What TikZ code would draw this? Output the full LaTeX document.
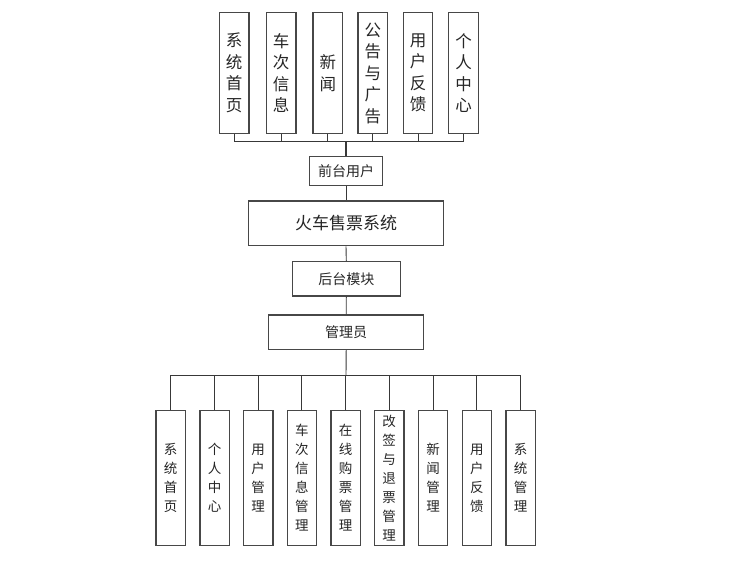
\documentclass[tikz,border=0pt]{standalone}
\usepackage{fontspec}
\setmainfont{Noto Sans CJK SC}
\begin{document}
\begin{tikzpicture}[x=1pt,y=-1pt,
  box/.style={draw=black!72, line width=1.3pt, fill=white, inner sep=0pt, align=center, text=black!85},
  topbox/.style={box, minimum width=29.5pt, minimum height=121.4pt, font=\fontsize{16.5}{21.5}\selectfont},
  botbox/.style={box, minimum width=29.3pt, minimum height=134.6pt, font=\fontsize{13.5}{19}\selectfont},
  conn/.style={draw=black!78, line width=0.9pt}]
\useasboundingbox (0,0) rectangle (746,574);
% top row
\node[topbox] (t1) at (234.2,73) {系\\统\\首\\页};
\node[topbox] (t2) at (281.2,73) {车\\次\\信\\息};
\node[topbox] (t3) at (327.8,73) {新\\闻};
\node[topbox] (t4) at (372.8,73) {公\\告\\与\\广\\告};
\node[topbox] (t5) at (418.0,73) {用\\户\\反\\馈};
\node[topbox] (t6) at (463.5,73) {个\\人\\中\\心};
\coordinate (tb) at (346,141);
% middle
\node[box, minimum width=73.4pt, minimum height=28.6pt, font=\fontsize{14}{16}\selectfont] (front) at (346,171) {前台用户};
\node[box, minimum width=195.4pt, minimum height=44.7pt, font=\fontsize{17}{20}\selectfont] (sys) at (346,223.3) {火车售票系统};
\node[box, minimum width=108pt, minimum height=34.3pt, font=\fontsize{14}{16}\selectfont] (back) at (346.3,278.8) {后台模块};
\node[box, minimum width=155pt, minimum height=34.3pt, font=\fontsize{14}{16}\selectfont] (admin) at (346.2,332.2) {管理员};
\coordinate (bb) at (346,375.7);
% bottom row
\node[botbox] (b1) at (170.7,478) {系\\统\\首\\页};
\node[botbox] (b2) at (214.5,478) {个\\人\\中\\心};
\node[botbox] (b3) at (258.2,478) {用\\户\\管\\理};
\node[botbox] (b4) at (301.8,478) {车\\次\\信\\息\\管\\理};
\node[botbox] (b5) at (345.5,478) {在\\线\\购\\票\\管\\理};
\node[botbox] (b6) at (389.2,478) {改\\签\\与\\退\\票\\管\\理};
\node[botbox] (b7) at (433.0,478) {新\\闻\\管\\理};
\node[botbox] (b8) at (476.8,478) {用\\户\\反\\馈};
\node[botbox] (b9) at (520.7,478) {系\\统\\管\\理};
% connectors top
\draw[conn] (t1.south) -- (t1.south |- tb) -- (t6.south |- tb) -- (t6.south);
\foreach \n in {t2,t3,t4,t5} \draw[conn] (\n.south) -- (\n.south |- tb);
\draw[conn, line width=1.4pt] (tb) -- (front.north);
\draw[conn] (front.south) -- (sys.north);
\draw[conn] (sys.south) -- (back.north);
\draw[conn] (back.south) -- (admin.north);
\draw[conn] (admin.south) -- (bb);
% connectors bottom
\draw[conn] (b1.north) -- (b1.north |- bb) -- (b9.north |- bb) -- (b9.north);
\foreach \n in {b2,b3,b4,b5,b6,b7,b8} \draw[conn] (\n.north) -- (\n.north |- bb);
\end{tikzpicture}
\end{document}
